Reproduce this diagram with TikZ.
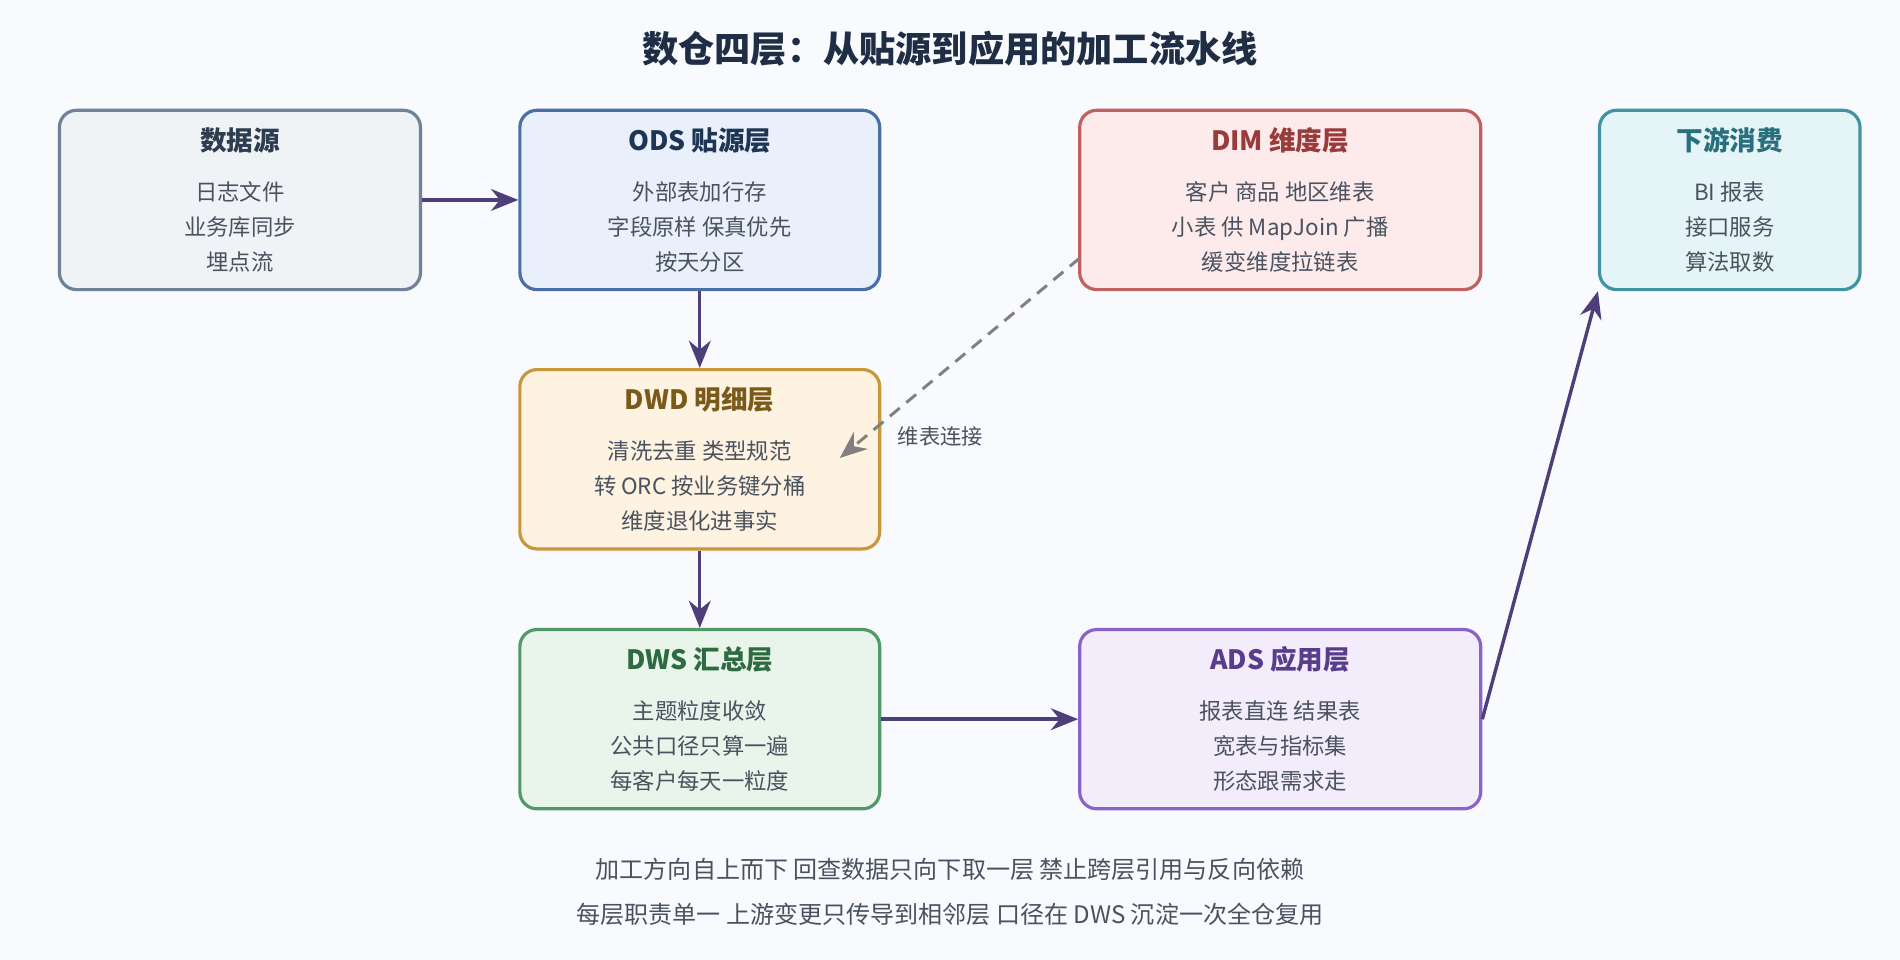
\documentclass[tikz,border=0pt]{standalone}
\usepackage{fontspec}
\setmainfont{Noto Sans CJK SC}
\usetikzlibrary{arrows.meta,positioning}
\definecolor{bgpaper}{HTML}{F8FAFD}
\definecolor{flowpurple}{HTML}{4E3F7A}
\definecolor{bodytext}{HTML}{4A5260}
\definecolor{titledark}{HTML}{1F2E45}
\definecolor{srcfill}{HTML}{F0F3F6}\definecolor{srcline}{HTML}{6F8299}\definecolor{srctext}{HTML}{2E3D50}
\definecolor{odsfill}{HTML}{E9F0FC}\definecolor{odsline}{HTML}{4A6FA5}\definecolor{odstext}{HTML}{1F3554}
\definecolor{dimfill}{HTML}{FDEBEB}\definecolor{dimline}{HTML}{C0605F}\definecolor{dimtext}{HTML}{9A3B3B}
\definecolor{usefill}{HTML}{E5F4F6}\definecolor{useline}{HTML}{3F93A3}\definecolor{usetext}{HTML}{2A6F7D}
\definecolor{dwdfill}{HTML}{FEF3E1}\definecolor{dwdline}{HTML}{C9973A}\definecolor{dwdtext}{HTML}{7A5A1A}
\definecolor{dwsfill}{HTML}{E9F5EB}\definecolor{dwsline}{HTML}{52996A}\definecolor{dwstext}{HTML}{2F6B40}
\definecolor{adsfill}{HTML}{F3ECFB}\definecolor{adsline}{HTML}{8A63C9}\definecolor{adstext}{HTML}{5A3C8C}

\tikzset{
  layer/.style={draw, line width=1.5pt, rounded corners=8pt, minimum height=2.96cm,
    align=center, text=bodytext, font=\fontsize{10.5}{16.5}\selectfont},
  flow/.style={flowpurple, line width=1.6pt, -{Stealth[length=4.5mm,width=3.6mm]}},
}
\newcommand{\layerbody}[3]{{\color{#1}\fontsize{12.5}{16}\selectfont\bfseries #2}\\[7pt]#3}

\begin{document}
\begin{tikzpicture}[x=0.02cm,y=-0.02cm]
    \fill[bgpaper] (0,0) rectangle (1568,792);

    % Title
    \node[font=\fontsize{17}{20}\selectfont\bfseries, text=titledark] (title) at (784,40) {数仓四层：从贴源到应用的加工流水线};

    % Layers
    \node[layer, fill=srcfill, draw=srcline, minimum width=5.96cm] (src) at (198,165)
        {\layerbody{srctext}{数据源}{日志文件\\业务库同步\\埋点流}};
    \node[layer, fill=odsfill, draw=odsline, minimum width=5.94cm] (ods) at (577.5,165)
        {\layerbody{odstext}{ODS 贴源层}{外部表加行存\\字段原样 保真优先\\按天分区}};
    \node[layer, fill=dimfill, draw=dimline, minimum width=6.62cm] (dim) at (1056.5,165)
        {\layerbody{dimtext}{DIM 维度层}{客户 商品 地区维表\\小表 供 MapJoin 广播\\缓变维度拉链表}};
    \node[layer, fill=usefill, draw=useline, minimum width=4.3cm] (use) at (1427.5,165)
        {\layerbody{usetext}{下游消费}{BI 报表\\接口服务\\算法取数}};
    \node[layer, fill=dwdfill, draw=dwdline, minimum width=5.94cm] (dwd) at (577.5,379)
        {\layerbody{dwdtext}{DWD 明细层}{清洗去重 类型规范\\转 ORC 按业务键分桶\\维度退化进事实}};
    \node[layer, fill=dwsfill, draw=dwsline, minimum width=5.94cm] (dws) at (577.5,593.5)
        {\layerbody{dwstext}{DWS 汇总层}{主题粒度收敛\\公共口径只算一遍\\每客户每天一粒度}};
    \node[layer, fill=adsfill, draw=adsline, minimum width=6.62cm] (ads) at (1056.5,593.5)
        {\layerbody{adstext}{ADS 应用层}{报表直连 结果表\\宽表与指标集\\形态跟需求走}};

    % Flow
    \draw[flow] (src) -- (ods);
    \draw[flow] (ods) -- (dwd);
    \draw[flow] (dwd) -- (dws);
    \draw[flow] (dws) -- (ads);
    \draw[flow] (ads.east) -- (use.south west);
    \coordinate (dimfoot) at (891,213);
    \coordinate (dwdhit) at (693,378);
    \draw[gray, line width=1.4pt, dash pattern=on 6pt off 4pt, -{Stealth[length=4.5mm,width=3.6mm]}]
        (dimfoot) -- (dwdhit);
    \node[font=\fontsize{10}{12}\selectfont, text=bodytext] (dimlink) at (776,360) {维表连接};

    % Notes
    \node[font=\fontsize{11.3}{21}\selectfont, text=bodytext, align=center] (notes) at (784,736)
        {加工方向自上而下 回查数据只向下取一层 禁止跨层引用与反向依赖\\每层职责单一 上游变更只传导到相邻层 口径在 DWS 沉淀一次全仓复用};
\end{tikzpicture}
\end{document}
